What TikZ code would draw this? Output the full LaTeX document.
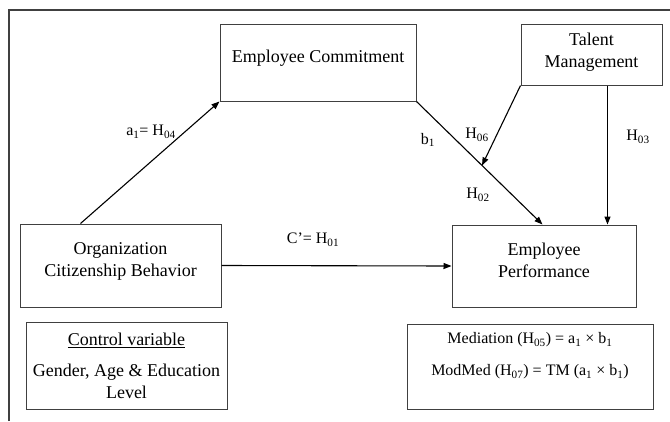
\documentclass[tikz,border=0pt]{standalone}
\usepackage{fontspec}
\setmainfont{Liberation Serif}
\usetikzlibrary{arrows.meta,calc}
\definecolor{linec}{gray}{0.25}
\begin{document}
\begin{tikzpicture}[x=1pt,y=-1pt,
  box/.style={draw=linec, line width=1pt, inner sep=0pt},
  big/.style={font=\fontsize{18}{22}\selectfont, align=center, text=black},
  med/.style={font=\fontsize{16}{20}\selectfont, align=center, text=black},
  lab/.style={font=\fontsize{16}{19}\selectfont, inner sep=0pt},
  arr/.style={draw=black, line width=1.1pt, -{Triangle[length=8pt,width=6pt]}},
]
\useasboundingbox (0,0) rectangle (670,421);
\draw[linec, line width=1.2pt] (9,421) -- (9,10) -- (670,10);

\node[box, minimum width=196pt, minimum height=77pt,
  label={[big, yshift=4.5pt]center:Employee Commitment}] (ec) at (318,62.5) {};
\node[box, minimum width=141pt, minimum height=61pt,
  label={[big, yshift=2.5pt]center:{Talent\\Management}}] (tm) at (591.5,54.5) {};
\node[box, minimum width=201pt, minimum height=83pt,
  label={[big, yshift=4.5pt]center:{Organization\\Citizenship Behavior}}] (ocb) at (120.5,265.5) {};
\node[box, minimum width=184pt, minimum height=82pt,
  label={[big, yshift=5.5pt]center:{Employee\\Performance}}] (ep) at (544,266) {};
\node[box, minimum width=201pt, minimum height=87pt,
  label={[big]center:{\underline{Control variable}\\[9pt]Gender, Age \& Education\\Level}}] (cv) at (126.5,365.5) {};
\node[box, minimum width=246pt, minimum height=85pt,
  label={[med, yshift=10.5pt]center:{Mediation (H\textsubscript{05}) = a\textsubscript{1} × b\textsubscript{1}\\[12pt]ModMed (H\textsubscript{07}) = TM (a\textsubscript{1} × b\textsubscript{1})}}] (md) at (530,366.5) {};

\node[lab] (la) at (151,132) {a\textsubscript{1}= H\textsubscript{04}};
\node[lab] (lb) at (428,140) {b\textsubscript{1}};
\node[lab] (l6) at (477,135) {H\textsubscript{06}};
\node[lab] (l3) at (638,137) {H\textsubscript{03}};
\node[lab] (l2) at (478,195) {H\textsubscript{02}};
\node[lab] (lc) at (313,240) {C’= H\textsubscript{01}};

\coordinate (ocbtop) at ([xshift=61pt]ocb.north west);
\draw[arr] (ocbtop) -- (ec.south west);
\coordinate (epb) at ([xshift=91pt]ep.north west);
\draw[arr] (ec.south east) -- (epb);
\coordinate (mod) at ($(ec.south east)!0.52!(epb)$);
\draw[arr] (tm.south west) -- (mod);
\coordinate (tmv) at ([xshift=87pt]tm.south west);
\draw[arr] (tmv) -- (tmv |- ep.north);
\draw[arr] (ocb.east) -- (ep.west);
\end{tikzpicture}
\end{document}
